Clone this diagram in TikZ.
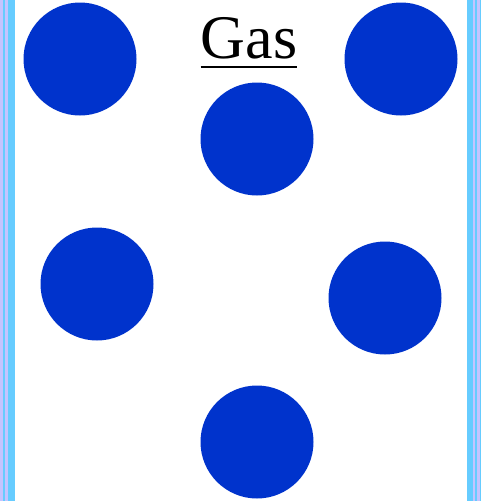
\documentclass[tikz,border=0pt]{standalone}
\usepackage{fontspec}
\setmainfont{Liberation Serif}
\usepackage{tikz}

\definecolor{wallblue}{HTML}{66CCFF}
\definecolor{walllav}{HTML}{C4C4FF}
\definecolor{ballblue}{HTML}{0033CC}

\tikzset{
  ball/.style={circle, fill=ballblue, inner sep=0pt, minimum size=113pt},
}

\begin{document}
\begin{tikzpicture}[x=1pt,y=-1pt]
\useasboundingbox (0,0) rectangle (481,501);
\fill [white] (0,0) rectangle (481,501);
% walls
\fill [wallblue] (0,0) rectangle (15,501);
\fill [walllav] (0,0) rectangle (3,501);
\fill [walllav] (5,0) rectangle (8,501);
\fill [wallblue] (467,0) rectangle (481,501);
\fill [walllav] (473,0) rectangle (475,501);
\fill [walllav] (476.5,0) rectangle (479.5,501);
% particles
\node[ball] (p1) at (80,59) {};
\node[ball] (p2) at (401,59) {};
\node[ball] (p3) at (257,139) {};
\node[ball] (p4) at (97,284) {};
\node[ball] (p5) at (385,298) {};
\node[ball] (p6) at (257,442) {};
\node[font=\fontsize{62}{64}\selectfont, inner sep=0pt, anchor=base] (gas) at (249,58) {Gas};
\draw [line width=2.6pt] ([yshift=-9pt]gas.base west) -- ([yshift=-9pt]gas.base east);
\end{tikzpicture}
\end{document}
